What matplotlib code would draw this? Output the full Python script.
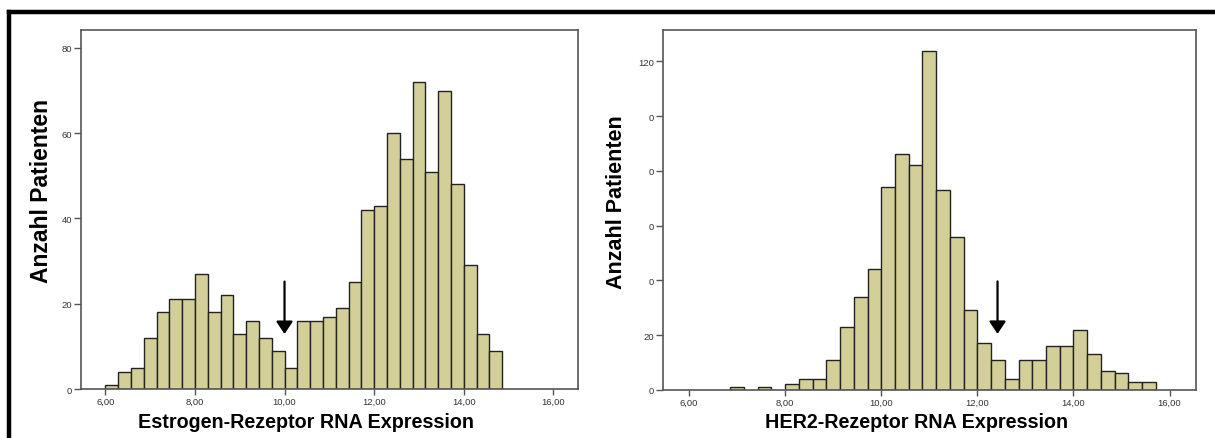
import matplotlib
matplotlib.use("Agg")
import matplotlib.pyplot as plt
from matplotlib.lines import Line2D
import numpy as np

# Histogramme : nombre de patients par classe d'expression (classes de largeur 2/7)
bin_width = 2 / 7
er_start = 6.0
er_counts = [1, 4, 5, 12, 18, 21, 21, 27, 18, 22, 13, 16, 12, 9, 5, 16,
             16, 17, 19, 25, 42, 43, 60, 54, 72, 51, 70, 48, 29, 13, 9]
her2_start = 6.0 + 3 * 2 / 7
her2_counts = [1, 0, 1, 0, 2, 4, 4, 11, 23, 34, 44, 74, 86, 82, 124, 73,
               56, 29, 17, 11, 4, 11, 11, 16, 16, 22, 13, 7, 6, 3, 3]

x_ticks = [6, 8, 10, 12, 14, 16]
x_ticklabels = ["6,00", "8,00", "10,00", "12,00", "14,00", "16,00"]
er_yticks = [0, 20, 40, 60, 80]
er_yticklabels = ["0", "20", "40", "60", "80"]
her2_yticks = [0, 20, 40, 60, 80, 100, 120]
her2_yticklabels = ["0", "20", "0", "0", "0", "0", "120"]  # labels coupés dans l'original

er_arrow = (10.0, 12.9, 25.2)      # x, pointe, départ
her2_arrow = (12.42, 20.4, 39.6)

bar_color = "#d3cf98"
spine_color = "#555555"

fig = plt.figure(figsize=(12.15, 4.39), dpi=100)
ax1 = fig.add_axes([0.0664, 0.1116, 0.4093, 0.8178])
ax2 = fig.add_axes([0.5454, 0.1100, 0.4389, 0.8194])


def draw_hist(ax, start, counts, ylim, yticks, yticklabels, xlabel, arrow,
              xlab_pos, ylab_pos, ylab_size):
    lefts = start + bin_width * np.arange(len(counts))
    counts = np.array(counts)
    keep = counts > 0
    ax.bar(lefts[keep], counts[keep], width=bin_width, align="edge",
           color=bar_color, edgecolor="#222222", linewidth=1.0)
    ax.set_xlim(5.45, 16.55)
    ax.set_ylim(0, ylim)
    ax.set_xticks(x_ticks)
    ax.set_xticklabels(x_ticklabels)
    ax.set_yticks(yticks)
    ax.set_yticklabels(yticklabels)
    for s in ax.spines.values():
        s.set_color(spine_color)
        s.set_linewidth(1.2)
    ax.tick_params(axis="y", direction="out", length=5, width=1.0,
                   color=spine_color, labelsize=6.8, labelcolor="#333333", pad=1)
    ax.tick_params(axis="x", direction="out", length=4, width=1.0,
                   color=spine_color, labelsize=6.8, labelcolor="#333333", pad=1.5)
    for lab in ax.get_xticklabels() + ax.get_yticklabels():
        lab.set_family("Liberation Sans")
    ax.set_xlabel(xlabel, fontsize=14.2, fontweight="bold", family="Liberation Sans")
    ax.xaxis.set_label_coords(*xlab_pos)
    ax.set_ylabel("Anzahl Patienten", fontsize=ylab_size, fontweight="bold",
                  family="Liberation Sans")
    ax.yaxis.set_label_coords(*ylab_pos)
    ax_x, tip, tail = arrow
    ax.annotate("", xy=(ax_x, tip), xytext=(ax_x, tail),
                arrowprops=dict(arrowstyle="-|>,head_width=0.5,head_length=0.75",
                                color="black", lw=1.6, shrinkA=0, shrinkB=0))


draw_hist(ax1, er_start, er_counts, 84.2, er_yticks, er_yticklabels,
          "Estrogen-Rezeptor RNA Expression", er_arrow,
          (0.454, -0.063), (-0.055, 0.553), 16.5)
draw_hist(ax2, her2_start, her2_counts, 131.5, her2_yticks, her2_yticklabels,
          "HER2-Rezeptor RNA Expression", her2_arrow,
          (0.476, -0.063), (-0.066, 0.525), 15.5)

# cadre noir épais autour de la figure (haut et gauche)
fig.add_artist(Line2D([0.0078, 1.0], [0.9704, 0.9704], transform=fig.transFigure,
                      color="black", linewidth=3.2, solid_capstyle="projecting"))
fig.add_artist(Line2D([0.0078, 0.0078], [0.0, 0.9704], transform=fig.transFigure,
                      color="black", linewidth=3.2, solid_capstyle="projecting"))

fig.savefig("out.png", dpi=100)
